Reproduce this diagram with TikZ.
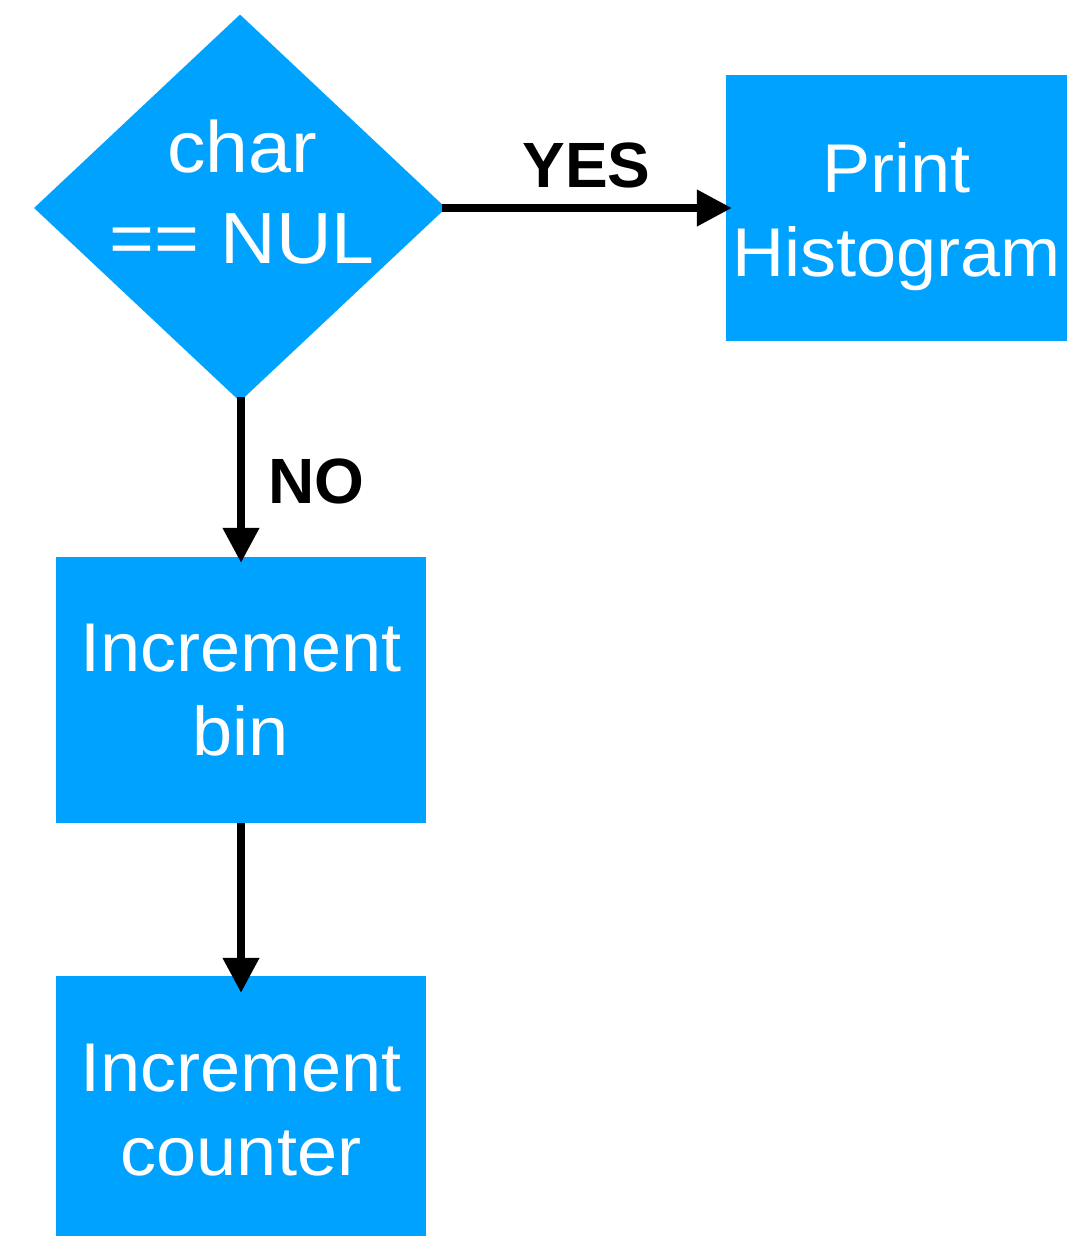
\documentclass[tikz,border=0pt]{standalone}
\usepackage{fontspec}
\setmainfont{Liberation Sans}
\newfontfamily\boxfont[FakeStretch=1.045]{Liberation Sans}
\newfontfamily\decfont[FakeStretch=1.06]{Liberation Sans}
\usetikzlibrary{shapes.geometric,arrows.meta}
\definecolor{boxblue}{HTML}{00A2FF}
\begin{document}
\begin{tikzpicture}[x=1pt,y=-1pt,
  procbox/.style={fill=boxblue,draw=none,inner sep=0pt},
  boxtext/.style={text=white,align=center,inner sep=0pt,
    font=\boxfont\fontsize{69}{84}\selectfont},
  dectextstyle/.style={text=white,align=center,inner sep=0pt,
    font=\decfont\fontsize{72.6}{91}\selectfont},
  decision/.style={diamond,fill=boxblue,draw=none,inner sep=0pt,
    minimum width=412pt,minimum height=387pt},
  flow/.style={line width=7.5pt,-{Triangle[length=35pt,width=35pt]}},
  choice/.style={font=\fontsize{64}{64}\selectfont\bfseries,text=black,inner sep=0pt}]
\useasboundingbox (0,0) rectangle (1068,1237);

% decision diamond and its caption
\node[decision] (dec) at (240,208) {};
\node[dectextstyle] (dectext) at (242,192.4) {char\\== NUL};

% process boxes
\node[procbox,minimum width=341pt,minimum height=266pt] (print) at (896.5,208) {};
\node[boxtext] (printtext) at (896.5,216.7) {Print\\Histogram};
\node[procbox,minimum width=370pt,minimum height=266pt] (bin) at (241,690) {};
\node[boxtext] (bintext) at (241,690) {Increment\\bin};
\node[procbox,minimum width=370pt,minimum height=260pt] (counter) at (241,1106) {};
\node[boxtext] (countertext) at (241,1110) {Increment\\counter};

% connectors
\draw[flow,shorten <=-4pt,shorten >=-6pt] (dec.east) -- (print.west);
\draw[flow,shorten <=-5pt,shorten >=-6pt] (dec.south -| bin.north) -- (bin.north);
\draw[flow,shorten >=-17pt] (bin.south) -- (counter.north);

% branch labels
\node[choice] (yes) at (586.5,165.5) {YES};
\node[choice] (no) at (316.7,481.5) {NO};
\end{tikzpicture}
\end{document}
